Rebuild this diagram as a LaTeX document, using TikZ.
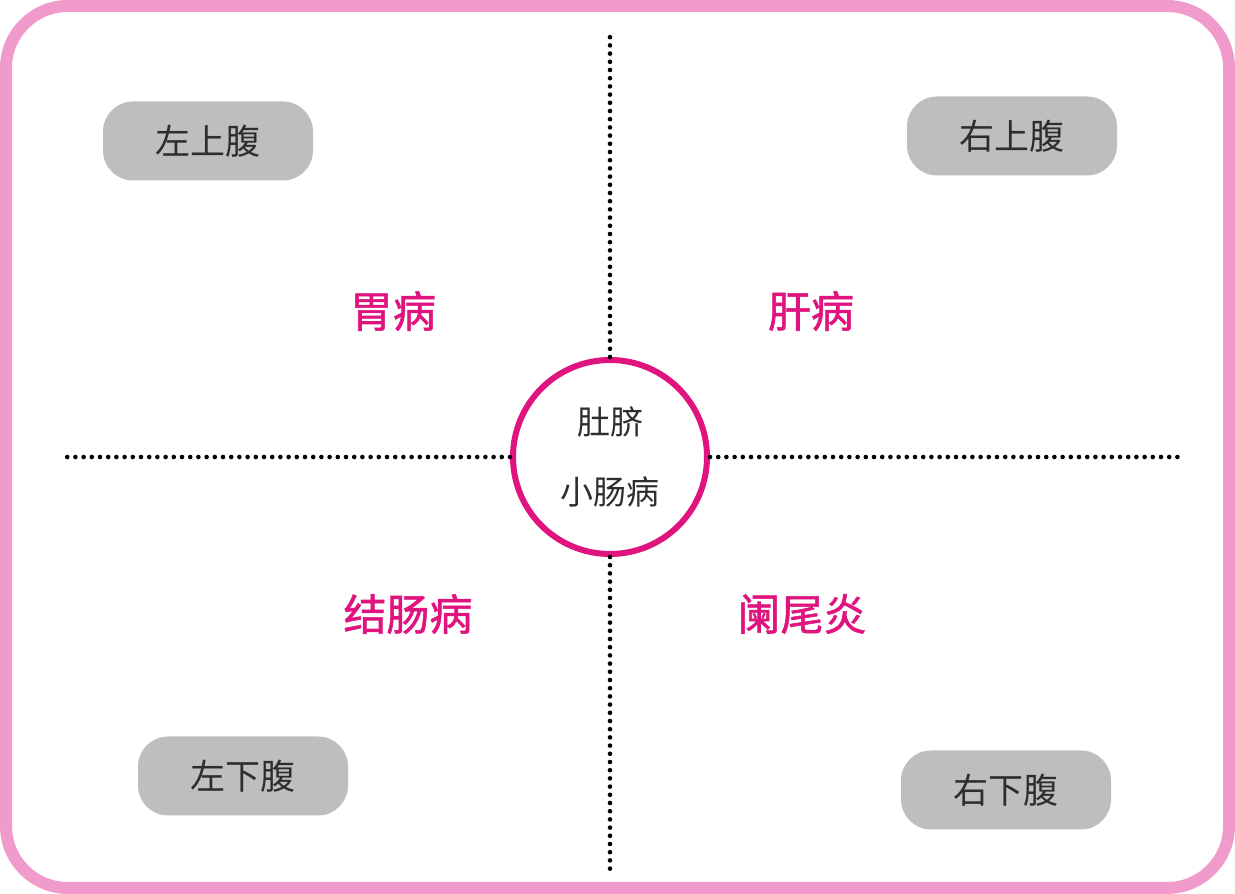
\documentclass[tikz,border=0pt]{standalone}
\usepackage{fontspec}
\setmainfont{Noto Sans CJK SC}
\newfontfamily\medfont{Noto Sans CJK SC}[FakeBold=1.3]
\usetikzlibrary{positioning}
\definecolor{framepink}{RGB}{241,155,204}
\definecolor{ringred}{RGB}{224,20,127}
\definecolor{boxgray}{RGB}{190,190,190}
\definecolor{textgray}{RGB}{45,45,45}
\begin{document}
\begin{tikzpicture}[x=1pt,y=1pt]
	\useasboundingbox (0,0) rectangle (1235,894);

	\tikzset{
		region/.style={fill=boxgray,rounded corners=30pt,minimum width=210pt,
			minimum height=79pt,text=textgray,font=\fontsize{35}{35}\selectfont},
		illness/.style={text=ringred,font=\fontsize{43}{43}\medfont},
		dotline/.style={line width=4.6pt,line cap=round,dash pattern=on 0pt off 8.2pt}
	}

	% outer frame
	\draw[framepink,line width=12pt,rounded corners=62pt] (6,6) rectangle (1229,888);

	% navel in the middle
	\node[circle,draw=ringred,line width=6pt,minimum size=194pt,inner sep=0pt,
		align=center,text=textgray,font=\fontsize{33}{70}\selectfont] (navel) at (610,437)
		{肚脐\\小肠病};

	\coordinate (top) at (610,864);
	\coordinate (bottom) at (610,20);
	\coordinate (left) at (63,437);
	\coordinate (right) at (1183,437);

	\draw[dotline] (navel.north) -- (top);
	\draw[dotline] (navel.south) -- (bottom);
	\draw[dotline] (navel.west) -- (left);
	\draw[dotline] (navel.east) -- (right);

	% the four quadrants
	\node[region] (ul) at (208,753) {左上腹};
	\node[region] (ur) at (1012,758) {右上腹};
	\node[region] (ll) at (243,118) {左下腹};
	\node[region] (lr) at (1006,104) {右下腹};

	\node[illness] (stomach) at (393,583) {胃病};
	\node[illness] (liver) at (811,583) {肝病};
	\node[illness] (colon) at (408,280) {结肠病};
	\node[illness] (appendix) at (802,280) {阑尾炎};
\end{tikzpicture}
\end{document}
